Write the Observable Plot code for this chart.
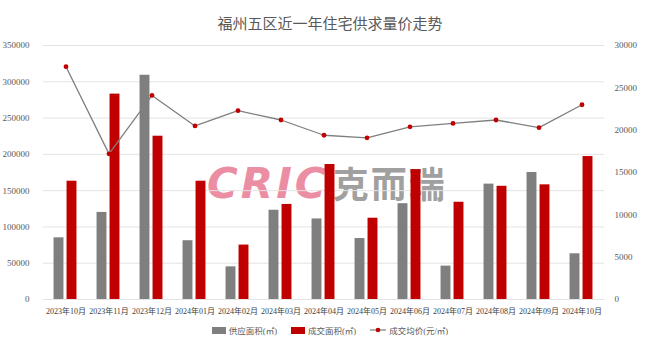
<!DOCTYPE html>
<html><head><meta charset="utf-8">
<script src="https://cdn.jsdelivr.net/npm/d3@7"></script>
<script src="https://cdn.jsdelivr.net/npm/@observablehq/plot@0.6"></script>
<style>
body{margin:0;background:#fff;}
#wrap{position:relative;width:660px;height:353px;overflow:hidden;font-family:"Liberation Serif","Noto Sans CJK SC",serif;}
#title{position:absolute;top:12px;left:0;width:660px;text-align:center;font-size:15px;color:#595959;}
#wm{position:absolute;top:156px;left:207px;white-space:nowrap;}
#wm .c{font-family:"DejaVu Sans",sans-serif;font-weight:bold;font-style:italic;font-size:42px;color:#ec8ea3;letter-spacing:3px;}
#wm .k{font-family:"Noto Sans CJK SC",sans-serif;font-weight:bold;font-size:36px;color:#a0a0a0;margin-left:4px;letter-spacing:2px;}
#chart{position:absolute;top:0;left:0;}
#legend{position:absolute;top:324px;left:0;width:660px;display:flex;justify-content:center;gap:14px;font-size:8.5px;color:#595959;align-items:center;}
.li{display:flex;align-items:center;gap:3px;}
.sw{width:14px;height:7px;display:inline-block;}
</style></head>
<body><div id="wrap">
<div id="wm"><span class="c">CRIC</span><span class="k">克而瑞</span></div>
<div id="chart"></div>
<div id="title">福州五区近一年住宅供求量价走势</div>
<div id="legend">
 <div class="li"><span class="sw" style="background:#7f7f7f"></span>供应面积(㎡)</div>
 <div class="li"><span class="sw" style="background:#c00000"></span>成交面积(㎡)</div>
 <div class="li"><svg width="16" height="8"><line x1="0" y1="4" x2="16" y2="4" stroke="#7f7f7f" stroke-width="1.2"/><circle cx="8" cy="4" r="2.3" fill="#c00000"/></svg>成交均价(元/㎡)</div>
</div>
</div>
<script>
const months = ["2023年10月","2023年11月","2023年12月","2024年01月","2024年02月","2024年03月","2024年04月","2024年05月","2024年06月","2024年07月","2024年08月","2024年09月","2024年10月"];
const supply = [85000,120000,309000,81000,45000,123000,111000,84000,132000,46000,159000,175000,63000];
const deal = [163000,283000,225000,163000,75000,131000,186000,112000,179000,134000,156000,158000,197000];
const price = [27500,17200,24100,20500,22300,21200,19400,19100,20400,20800,21200,20300,23000];
const leftTicks = [0,50000,100000,150000,200000,250000,300000,350000];
const rightTicks = [0,5000,10000,15000,20000,25000,30000];

const LMAX = 350000, RMAX = 30000;
const k = LMAX / RMAX;
const rows = months.map((m,i)=>({m, s:supply[i], d:deal[i], p:price[i]*k}));
const bw = 560/13;
const font = "Liberation Serif, Noto Sans CJK SC, serif";

const plot = Plot.plot({
  width: 660, height: 353,
  marginTop: 45, marginBottom: 54, marginLeft: 43, marginRight: 56,
  style: {fontFamily: font, fontSize: "9px", color: "#595959", background: "transparent"},
  x: {domain: months, padding: 0, label: null},
  y: {domain: [0, LMAX], label: null},
  marks: [
    Plot.ruleY(leftTicks, {stroke: "#e3e3e3", strokeWidth: 1}),
    Plot.axisY({ticks: leftTicks, tickSize: 0, tickPadding: 14, tickFormat: d => String(d), fontSize: 9, fill: "#595959"}),
    Plot.axisY(rightTicks.map(v => v*k), {anchor: "right", tickSize: 0, tickPadding: 10, tickFormat: d => String(Math.round(d/k)), fontSize: 9, fill: "#595959", textAnchor: "start"}),
    Plot.axisX({tickSize: 0, tickPadding: 9, fontSize: 8, fill: "#404040"}),
    Plot.barY(rows, {x: "m", y: "s", fill: "#7f7f7f", insetLeft: bw/2 - 12, insetRight: bw/2 + 2}),
    Plot.barY(rows, {x: "m", y: "d", fill: "#c00000", insetLeft: bw/2 + 1, insetRight: bw/2 - 11}),
    Plot.line(rows, {x: "m", y: "p", stroke: "#7f7f7f", strokeWidth: 1.3}),
    Plot.dot(rows, {x: "m", y: "p", r: 2.4, fill: "#c00000", stroke: "none"})
  ]
});
document.getElementById("chart").appendChild(plot);
</script>
</body></html>
